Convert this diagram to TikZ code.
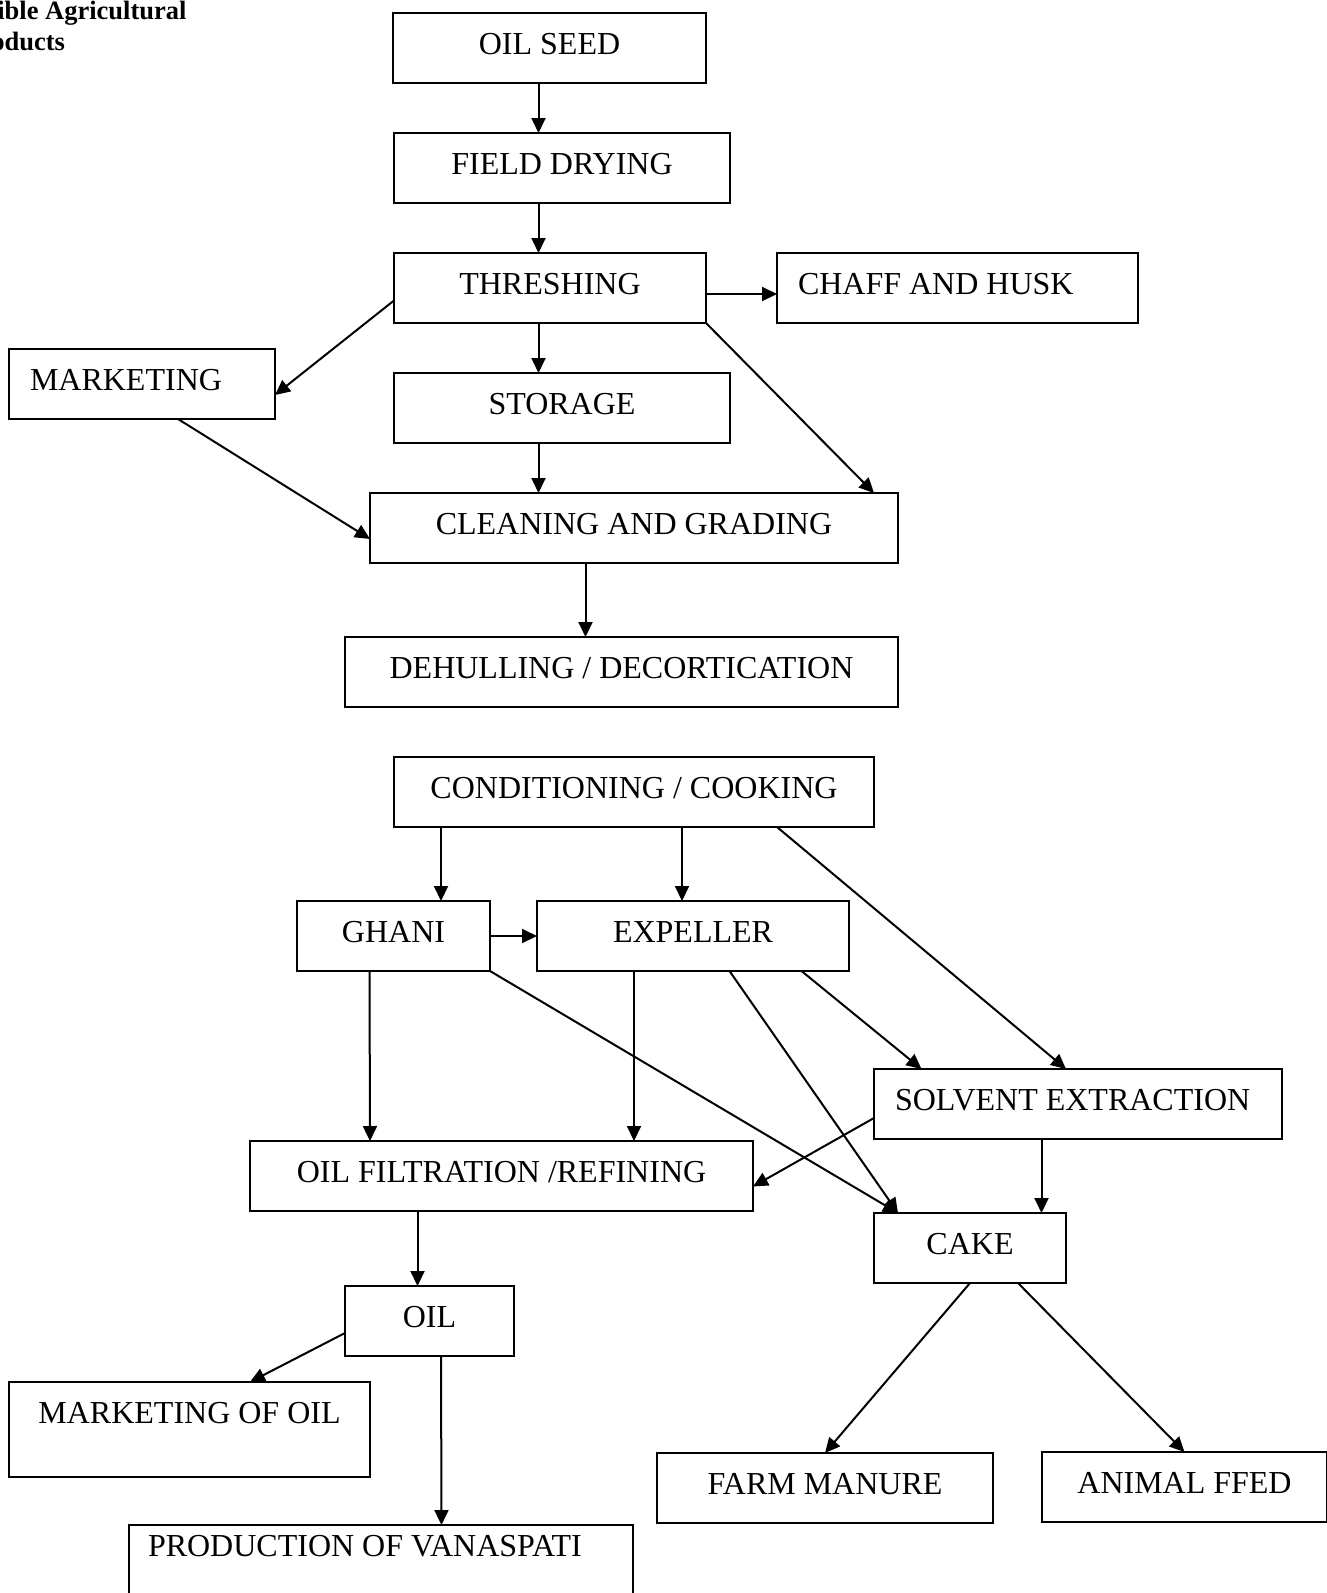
\documentclass[tikz,border=0pt]{standalone}
\usepackage{fontspec}
\setmainfont{Liberation Serif}
\usetikzlibrary{arrows.meta}

\begin{document}
\begin{tikzpicture}[x=1pt,y=-1pt,>={Triangle[length=15pt,width=14pt]},
    box/.style={draw,line width=2pt,inner sep=0pt,outer sep=0pt,anchor=north west,
      text height=41pt,text depth=29pt,font=\fontsize{32}{38}\selectfont},
    lbox/.style={box,align=flush left,inner xsep=21pt},
    arr/.style={line width=2pt,->}]
  \useasboundingbox (0,0) rectangle (1326,1593);
  \node[anchor=base east,font=\fontsize{26.5}{31}\selectfont\bfseries] (head1) at (190,19) {ible Agricultural};
  \node[anchor=base east,font=\fontsize{26.5}{31}\selectfont\bfseries] (head2) at (68.5,50) {oducts};

  \node[box,minimum width=313pt] (seed) at (393,13) {OIL SEED};
  \node[box,minimum width=336pt] (drying) at (394,133) {FIELD DRYING};
  \node[box,minimum width=312pt] (thresh) at (394,253) {THRESHING};
  \node[lbox,text width=319pt] (chaff) at (777,253) {CHAFF AND HUSK};
  \node[lbox,text width=224pt] (market) at (9,349) {MARKETING};
  \node[box,minimum width=336pt] (storage) at (394,373) {STORAGE};
  \node[box,minimum width=528pt] (clean) at (370,493) {CLEANING AND GRADING};
  \node[box,minimum width=553pt] (dehull) at (345,637) {DEHULLING / DECORTICATION};
  \node[box,minimum width=480pt] (cond) at (394,757) {CONDITIONING / COOKING};
  \node[box,minimum width=193pt] (ghani) at (297,901) {GHANI};
  \node[box,minimum width=312pt] (expel) at (537,901) {EXPELLER};
  \node[lbox,text width=366pt] (solvent) at (874,1069) {SOLVENT EXTRACTION};
  \node[box,minimum width=503pt] (filter) at (250,1141) {OIL FILTRATION /REFINING};
  \node[box,minimum width=192pt] (cake) at (874,1213) {CAKE};
  \node[box,minimum width=169pt] (oil) at (345,1286) {OIL};
  \node[box,minimum width=361pt,text depth=54pt] (moil) at (9,1382) {MARKETING OF OIL};
  \node[box,minimum width=336pt] (manure) at (657,1453) {FARM MANURE};
  \node[box,minimum width=285pt] (feed) at (1042,1452) {ANIMAL FFED};
  \node[lbox,inner xsep=19pt,text width=466pt,text height=31pt,text depth=70pt] (vanas) at (129,1525) {PRODUCTION OF VANASPATI};

  % first stage
  \draw[arr] ([xshift=-11pt]seed.south) -- ([xshift=-23.5pt]drying.north);
  \draw[arr] ([xshift=-23.5pt]drying.south) -- ([xshift=-11.5pt]thresh.north);
  \draw[arr] ([yshift=-6pt]thresh.east) -- ([yshift=-6pt]chaff.west);
  \draw[arr] ([yshift=-12.5pt]thresh.west) -- ([yshift=-11pt]market.east);
  \draw[arr] ([xshift=-11.5pt]thresh.south) -- ([xshift=-23.5pt]storage.north);
  \draw[arr] (thresh.south east) -- ([xshift=-24pt]clean.north east);
  \draw[arr] ([xshift=36pt]market.south) -- ([yshift=-11pt]clean.west);
  \draw[arr] ([xshift=-23.5pt]storage.south) -- ([xshift=-95.5pt]clean.north);
  \draw[arr] ([xshift=-48.5pt]clean.south) -- ([xshift=-36pt]dehull.north);

  % extraction
  \draw[arr] ([xshift=-193pt]cond.south) -- ([xshift=47.5pt]ghani.north);
  \draw[arr] ([xshift=48pt]cond.south) -- ([xshift=-11pt]expel.north);
  \draw[arr] ([xshift=143pt]cond.south) -- ([xshift=-12pt]solvent.north);
  \draw[arr] (ghani.east) -- (expel.west);
  \draw[arr] ([xshift=-24pt]ghani.south) -- ([xshift=-131.5pt]filter.north);
  \draw[arr] (ghani.south east) -- ([xshift=24pt]cake.north west);
  \draw[arr] ([xshift=-59pt]expel.south) -- ([xshift=132.5pt]filter.north);
  \draw[arr] ([xshift=36.5pt]expel.south) -- ([xshift=24pt]cake.north west);
  \draw[arr] ([xshift=108.5pt]expel.south) -- ([xshift=47.5pt]solvent.north west);
  \draw[arr] ([yshift=-14pt]solvent.west) -- ([yshift=-10.5pt]filter.east);
  \draw[arr] ([xshift=-36.5pt]solvent.south) -- ([xshift=71.5pt]cake.north);

  % products
  \draw[arr] ([xshift=-84pt]filter.south) -- ([xshift=-12pt]oil.north);
  \draw[arr] ([yshift=-12pt]oil.west) -- ([xshift=60.5pt]moil.north);
  \draw[arr] ([xshift=11.5pt]oil.south) -- ([xshift=60.5pt]vanas.north);
  \draw[arr] (cake.south) -- (manure.north);
  \draw[arr] ([xshift=48pt]cake.south) -- (feed.north);
\end{tikzpicture}
\end{document}
